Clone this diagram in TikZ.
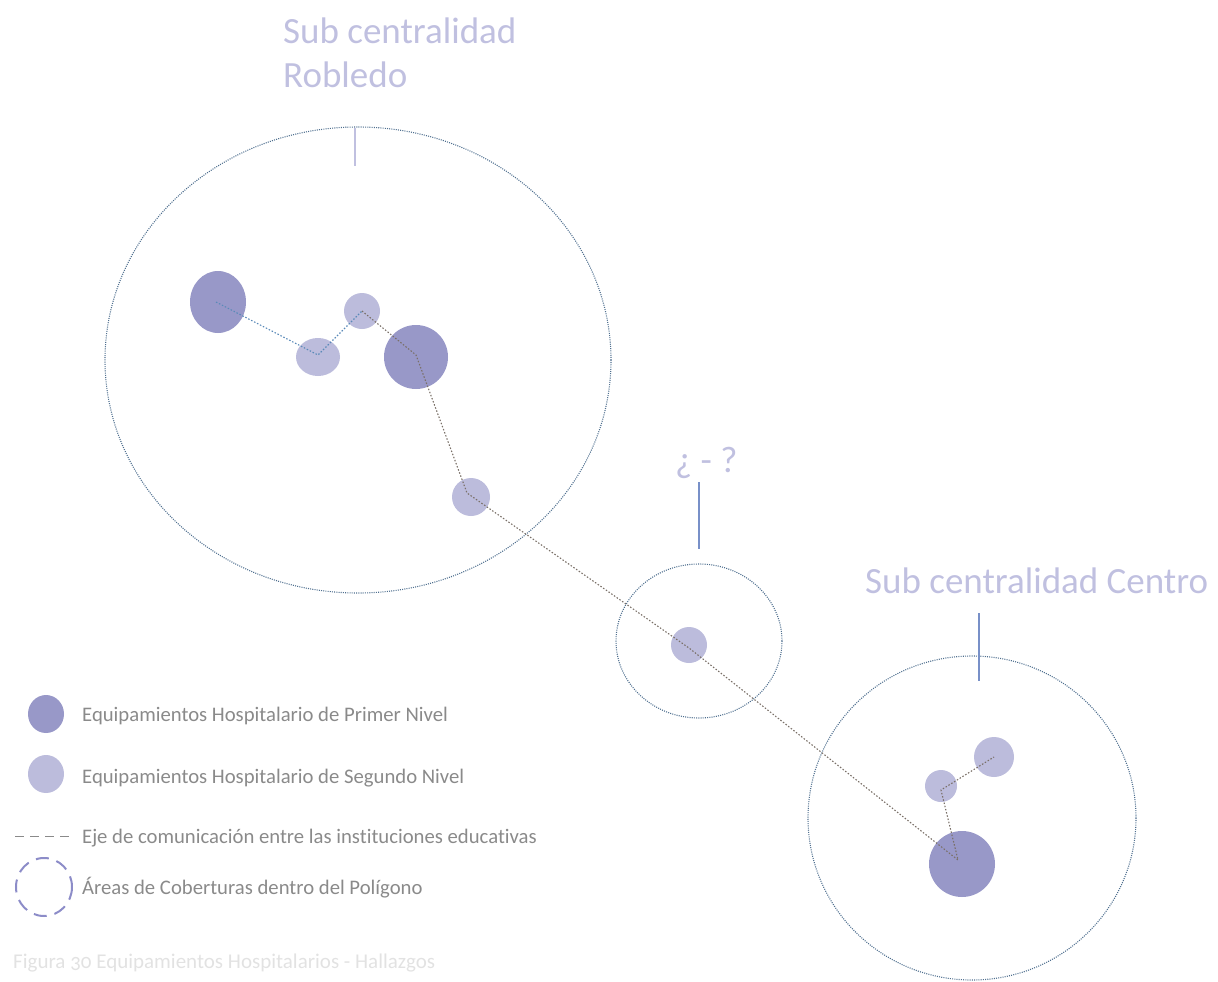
\documentclass[tikz,border=0pt]{standalone}
\usepackage{fontspec}
\setmainfont{Carlito}[RawFeature=-liga]
\newfontfamily\capfont{Carlito}[RawFeature=-liga, Numbers=OldStyle]
\definecolor{primer}{HTML}{9898C8}
\definecolor{segundo}{HTML}{BCBCDC}
\definecolor{areaC}{HTML}{4F6F8F}
\definecolor{ejeC}{HTML}{7A7068}
\definecolor{ejeB}{HTML}{5A8AB8}
\definecolor{titleC}{HTML}{C0C0E0}
\definecolor{leadB}{HTML}{7890C8}
\definecolor{legC}{HTML}{8A8A8A}
\definecolor{capC}{HTML}{E2E2E2}
\definecolor{legDash}{HTML}{8C8CC8}
\tikzset{
  area/.style={draw=areaC, line width=1.1pt, dash pattern=on 1pt off 1.2pt},
  eje/.style={draw=ejeC, line width=1.1pt, dash pattern=on 1.5pt off 1.8pt},
  ejeb/.style={draw=ejeB, line width=1.1pt, dash pattern=on 1.5pt off 1.8pt},
  dotP/.style={fill=primer, draw=none},
  dotS/.style={fill=segundo, draw=none},
  ttl/.style={text=titleC, font=\fontsize{37}{44}\selectfont, inner sep=0pt, anchor=base west, align=left},
  leg/.style={text=legC, font=\fontsize{20.7}{24}\selectfont, inner sep=0pt, anchor=base west},
}
\begin{document}
\begin{tikzpicture}[x=1pt,y=-1pt]
\useasboundingbox (0,0) rectangle (1218,982);
% coverage areas
\draw[area] (358,360) ellipse [x radius=253, y radius=233];
\draw[area] (699,641) ellipse [x radius=83, y radius=77];
\draw[area] (972,818) ellipse [x radius=164, y radius=162];
% dots
\fill[dotP] (218,302) ellipse [x radius=28, y radius=31];
\fill[dotS] (318,357) ellipse [x radius=22, y radius=19];
\fill[dotS] (362,311) ellipse [x radius=18, y radius=18];
\fill[dotP] (416,357) ellipse [x radius=32, y radius=32];
\fill[dotS] (471,497) ellipse [x radius=19, y radius=19];
\fill[dotS] (689,645) ellipse [x radius=18, y radius=18];
\fill[dotS] (994,757) ellipse [x radius=20, y radius=20];
\fill[dotS] (941,786) ellipse [x radius=16, y radius=16];
\fill[dotP] (962,864) ellipse [x radius=33, y radius=33];
% axis points
\coordinate (a1) at (216,302);
\coordinate (a2) at (318,355);
\coordinate (a3) at (362,311);
\coordinate (a4) at (416,355);
\coordinate (a5) at (467,493);
\coordinate (a6) at (689,648);
\coordinate (a7) at (958,860);
\coordinate (a8) at (941,790);
\coordinate (a9) at (994,757);
\draw[ejeb] (a1) -- (a2) -- (a3);
\draw[eje] (a3) -- (a4) -- (a5) -- (a6) -- (a7) -- (a8) -- (a9);
% titles and leaders
\node[ttl] (t1) at (283,44) {Sub centralidad};
\node[ttl] (t1b) at (283,88) {Robledo};
\node[ttl] (t2) at (675,472) {¿ - ?};
\node[ttl] (t3) at (865,593) {Sub centralidad Centro};
\coordinate (l1a) at (355,128); \coordinate (l1b) at (355,166);
\coordinate (l2a) at (699,482); \coordinate (l2b) at (699,549);
\coordinate (l3a) at (979,613); \coordinate (l3b) at (979,681);
\draw[titleC, line width=1.2pt] (l1a) -- (l1b);
\draw[leadB, line width=1.2pt] (l2a) -- (l2b);
\draw[leadB, line width=1.2pt] (l3a) -- (l3b);
% legend
\fill[dotP] (46,714) ellipse [x radius=18, y radius=19];
\fill[dotS] (46,774) ellipse [x radius=18, y radius=19];
\coordinate (d1) at (15,836); \coordinate (d2) at (70,836);
\draw[draw=legC, line width=1pt, dash pattern=on 9pt off 6pt] (d1) -- (d2);
\draw[legDash, line width=2pt, dash pattern=on 13pt off 8pt] (44,887) ellipse [x radius=28, y radius=29];
\node[leg] (g1) at (82,721) {Equipamientos Hospitalario de Primer Nivel};
\node[leg] (g2) at (82,783) {Equipamientos Hospitalario de Segundo Nivel};
\node[leg] (g3) at (82,843) {Eje de comunicación entre las instituciones educativas};
\node[leg] (g4) at (82,894) {Áreas de Coberturas dentro del Polígono};
\node[leg, text=capC, font=\capfont\fontsize{21}{24}\selectfont] (cap) at (13,968) {Figura 30 Equipamientos Hospitalarios - Hallazgos};
\end{tikzpicture}
\end{document}
